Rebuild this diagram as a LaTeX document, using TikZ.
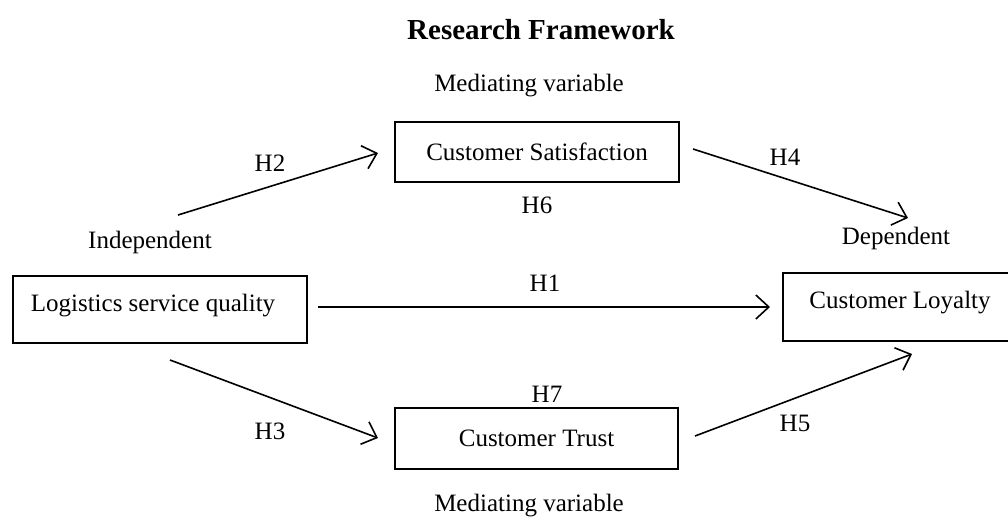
\documentclass[tikz,border=0pt]{standalone}
\usepackage{fontspec}
\setmainfont{Liberation Serif}
\usetikzlibrary{arrows.meta}
\begin{document}
\begin{tikzpicture}[x=1pt,y=-1pt,
  box/.style={draw,line width=1.6pt,inner sep=0pt,font=\fontsize{25}{30}\selectfont},
  lbl/.style={inner sep=0pt,font=\fontsize{25}{30}\selectfont},
  arr/.style={line width=1.6pt,-{Straight Barb[length=13pt,width=24pt,line width=1.6pt]}}]
\useasboundingbox (0,0) rectangle (1008,517);
\begin{scope}
\clip (0,0) rectangle (1008,517);
\node[inner sep=0pt,font=\fontsize{29}{34}\selectfont\bfseries] (title) at (541,30) {Research Framework};
\node[lbl] (medtop) at (529,86) {Mediating variable};
\node[box,minimum width=284pt,minimum height=60pt] (cs) at (537,152) {Customer Satisfaction};
\node[box,minimum width=283pt,minimum height=61pt] (ct) at (536.5,438.5) {Customer Trust};
\node[box,minimum width=294pt,minimum height=67pt] (lsq) at (160,309.5) {};
\node[lbl] (lsqt) at (153,306) {Logistics service quality};
\node[box,minimum width=240pt,minimum height=68pt] (cl) at (903,307) {};
\node[lbl] (clt) at (900,303) {Customer Loyalty};
\node[lbl] (medbot) at (529,506) {Mediating variable};
\node[lbl] (indep) at (150,242) {Independent};
\node[lbl] (dep) at (896,238) {Dependent};
\node[lbl] (h1) at (545,283) {H1};
\node[lbl] (h2) at (270,163) {H2};
\node[lbl] (h3) at (270,431) {H3};
\node[lbl] (h4) at (785,157) {H4};
\node[lbl] (h5) at (795,423) {H5};
\node[lbl] (h6) at (537,205) {H6};
\node[lbl] (h7) at (547,394) {H7};
\coordinate (a2s) at (178,215); \coordinate (a2e) at (378,153);
\coordinate (a4s) at (693,149); \coordinate (a4e) at (908,218);
\coordinate (a1s) at (318,307); \coordinate (a1e) at (770,307);
\coordinate (a3s) at (170,360); \coordinate (a3e) at (378,438);
\coordinate (a5s) at (695,436); \coordinate (a5e) at (912,354);
\draw[arr] (a2s) -- (a2e);
\draw[arr] (a4s) -- (a4e);
\draw[arr] (a1s) -- (a1e);
\draw[arr] (a3s) -- (a3e);
\draw[arr] (a5s) -- (a5e);
\end{scope}
\end{tikzpicture}
\end{document}
